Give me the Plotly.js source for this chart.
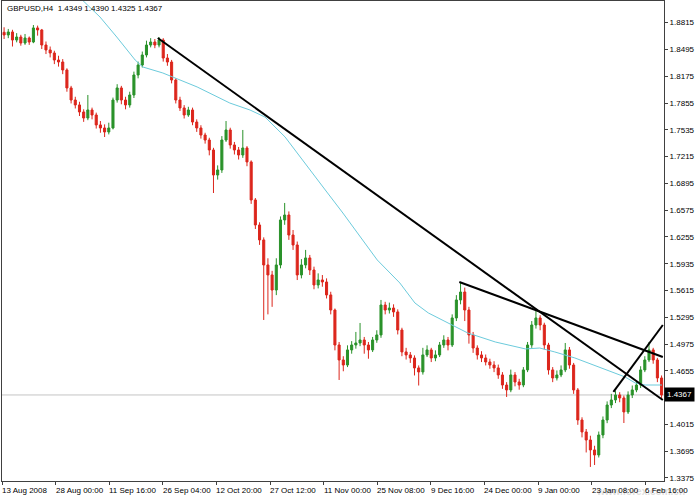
<!DOCTYPE html>
<html>
<head>
<meta charset="utf-8">
<script src="https://cdn.plot.ly/plotly-3.0.1.min.js"></script>
<style>
html,body{margin:0;padding:0;background:#fff;}
#chart{width:698px;height:498px;}
</style>
</head>
<body>
<div id="chart"></div>
<script>
// ---- Data (each candle ~ 5 H4 bars) ----
const openP = [1.8700,1.8668,1.8704,1.8608,1.8644,1.8572,1.8632,1.8584,1.8752,1.8728,
1.8548,1.8489,1.8453,1.8369,1.8345,1.8250,1.8035,1.7891,1.7832,1.7748,
1.7676,1.7772,1.7712,1.7593,1.7557,1.7509,1.7557,1.7891,1.8035,1.7891,
1.7832,1.7951,1.8190,1.8309,1.8429,1.8548,1.8584,1.8548,1.8608,1.8393,
1.8345,1.8130,1.7891,1.7796,1.7712,1.7772,1.7628,1.7557,1.7473,1.7413,
1.7294,1.6995,1.7055,1.7413,1.7533,1.7354,1.7294,1.7234,1.7318,1.7151,
1.6697,1.6398,1.6219,1.5920,1.5801,1.5621,1.5920,1.6458,1.6517,1.6278,
1.6159,1.5801,1.5920,1.6004,1.5860,1.5681,1.5741,1.5717,1.5562,1.5382,
1.4964,1.4785,1.4725,1.4905,1.4964,1.4988,1.5024,1.4964,1.4905,1.5024,
1.5084,1.5442,1.5382,1.5406,1.5359,1.5143,1.4881,1.4845,1.4809,1.4690,
1.4642,1.4845,1.4905,1.4809,1.4845,1.4964,1.5024,1.4964,1.5287,1.5502,
1.5597,1.5382,1.5084,1.4928,1.4845,1.4809,1.4761,1.4725,1.4690,1.4606,
1.4486,1.4427,1.4606,1.4522,1.4486,1.4666,1.4964,1.5203,1.5287,1.5203,
1.4964,1.4666,1.4570,1.4606,1.4666,1.4905,1.4725,1.4427,1.4068,1.3925,
1.3829,1.3710,1.3650,1.3889,1.4068,1.4247,1.4307,1.4367,1.4331,1.4164,
1.4367,1.4427,1.4486,1.4666,1.4785,1.4905,1.4785,1.4570];

const highP = [1.8760,1.8740,1.8730,1.8690,1.8670,1.8680,1.8650,1.8787,1.8780,1.8740,
1.8590,1.8530,1.8480,1.8420,1.8380,1.8270,1.8060,1.7930,1.7870,1.7780,
1.7951,1.7800,1.7740,1.7640,1.7600,1.7620,1.7920,1.8080,1.8060,1.7930,
1.7990,1.8230,1.8350,1.8470,1.8600,1.8630,1.8620,1.8644,1.8630,1.8440,
1.8370,1.8150,1.7930,1.7830,1.7810,1.7800,1.7660,1.7590,1.7500,1.7440,
1.7320,1.7110,1.7460,1.7640,1.7560,1.7390,1.7330,1.7533,1.7340,1.7170,
1.6720,1.6430,1.6250,1.6000,1.5850,1.6000,1.6500,1.6661,1.6560,1.6338,
1.6200,1.5990,1.6100,1.6040,1.5900,1.5820,1.5800,1.5760,1.5600,1.5400,
1.5000,1.4830,1.4960,1.5010,1.5120,1.5227,1.5060,1.5000,1.5060,1.5140,
1.5502,1.5480,1.5470,1.5450,1.5390,1.5170,1.4930,1.4880,1.4840,1.4720,
1.4930,1.4960,1.4930,1.4900,1.5000,1.5080,1.5060,1.5330,1.5560,1.5717,
1.5650,1.5420,1.5120,1.4960,1.4890,1.4850,1.4800,1.4770,1.4730,1.4640,
1.4520,1.4670,1.4640,1.4560,1.4700,1.5000,1.5250,1.5382,1.5320,1.5230,
1.4990,1.4700,1.4660,1.4720,1.4988,1.4940,1.4750,1.4450,1.4100,1.3960,
1.3880,1.3760,1.3930,1.4110,1.4290,1.4380,1.4420,1.4400,1.4360,1.4410,
1.4480,1.4540,1.4710,1.4830,1.5000,1.4930,1.4810,1.4600];

const lowP = [1.8620,1.8630,1.8530,1.8580,1.8540,1.8550,1.8550,1.8570,1.8660,1.8500,
1.8440,1.8400,1.8320,1.8290,1.8200,1.7990,1.7850,1.7790,1.7700,1.7630,
1.7650,1.7660,1.7550,1.7500,1.7449,1.7480,1.7540,1.7860,1.7840,1.7780,
1.7800,1.7915,1.8150,1.8280,1.8400,1.8520,1.8510,1.8520,1.8350,1.8300,
1.8090,1.7850,1.7760,1.7670,1.7690,1.7590,1.7510,1.7430,1.7370,1.7230,
1.6780,1.6940,1.7020,1.7390,1.7310,1.7240,1.7180,1.7200,1.7100,1.6650,
1.6350,1.6160,1.5263,1.5330,1.5420,1.5560,1.5880,1.6400,1.6220,1.6100,
1.5740,1.5760,1.5880,1.5800,1.5630,1.5640,1.5660,1.5520,1.5330,1.4900,
1.4546,1.4650,1.4700,1.4860,1.4920,1.4950,1.4860,1.4800,1.4880,1.4990,
1.5050,1.5330,1.5340,1.5300,1.5090,1.4830,1.4790,1.4750,1.4600,1.4480,
1.4610,1.4820,1.4760,1.4770,1.4820,1.4930,1.4900,1.4940,1.5250,1.5450,
1.5250,1.4980,1.4870,1.4790,1.4760,1.4720,1.4680,1.4640,1.4560,1.4440,
1.4343,1.4400,1.4470,1.4430,1.4460,1.4640,1.4930,1.5160,1.5140,1.4910,
1.4610,1.4520,1.4540,1.4580,1.4640,1.4680,1.4380,1.4010,1.3860,1.3680,
1.3507,1.3530,1.3620,1.3850,1.4030,1.4210,1.4270,1.4280,1.4032,1.4140,
1.4330,1.4400,1.4450,1.4640,1.4760,1.4740,1.4520,1.4325];

const closeP = [1.8668,1.8704,1.8608,1.8644,1.8572,1.8632,1.8584,1.8752,1.8728,1.8548,
1.8489,1.8453,1.8369,1.8345,1.8250,1.8035,1.7891,1.7832,1.7748,1.7676,
1.7772,1.7712,1.7593,1.7557,1.7509,1.7557,1.7891,1.8035,1.7891,1.7832,
1.7951,1.8190,1.8309,1.8429,1.8548,1.8584,1.8548,1.8608,1.8393,1.8345,
1.8130,1.7891,1.7796,1.7712,1.7772,1.7628,1.7557,1.7473,1.7413,1.7294,
1.6995,1.7055,1.7413,1.7533,1.7354,1.7294,1.7234,1.7318,1.7151,1.6697,
1.6398,1.6219,1.5920,1.5801,1.5621,1.5920,1.6458,1.6517,1.6278,1.6159,
1.5801,1.5920,1.6004,1.5860,1.5681,1.5741,1.5717,1.5562,1.5382,1.4964,
1.4785,1.4725,1.4905,1.4964,1.4988,1.5024,1.4964,1.4905,1.5024,1.5084,
1.5442,1.5382,1.5406,1.5359,1.5143,1.4881,1.4845,1.4809,1.4690,1.4642,
1.4845,1.4905,1.4809,1.4845,1.4964,1.5024,1.4964,1.5287,1.5502,1.5597,
1.5382,1.5084,1.4928,1.4845,1.4809,1.4761,1.4725,1.4690,1.4606,1.4486,
1.4427,1.4606,1.4522,1.4486,1.4666,1.4964,1.5203,1.5287,1.5203,1.4964,
1.4666,1.4570,1.4606,1.4666,1.4905,1.4725,1.4427,1.4068,1.3925,1.3829,
1.3710,1.3650,1.3889,1.4068,1.4247,1.4307,1.4367,1.4331,1.4164,1.4367,
1.4427,1.4486,1.4666,1.4785,1.4905,1.4785,1.4570,1.4367];

// moving average (cyan): H4 bar index / price
const maBar   = [81,99,117,137,159,168,192,233,272,296,314,338,362,386,407,436,448,475,493,509,533,556,589,625,642,660,684,716,744,756,768,788];
const maPrice = [1.9229,1.9050,1.8883,1.8644,1.8369,1.8286,1.8214,1.8047,1.7855,1.7772,1.7688,1.7449,1.7139,1.6816,1.6541,1.6135,1.5980,1.5705,1.5466,1.5347,1.5227,1.5108,1.5000,1.4917,1.4928,1.4881,1.4809,1.4690,1.4582,1.4510,1.4486,1.4486];

// trend lines: [bar0, price0, bar1, price1]
const trendLines = [
  [186, 1.8632, 789, 1.4307],
  [546, 1.5717, 789, 1.4821],
  [730, 1.4403, 789, 1.5203]
];

const xTickBars  = [0,64,128,192,256,320,384,448,512,576,640,704,768];
const xTickText  = ["13 Aug 2008","28 Aug 00:00","11 Sep 16:00","26 Sep 04:00","12 Oct 20:00","27 Oct 12:00","11 Nov 00:00","25 Nov 08:00","9 Dec 16:00","24 Dec 00:00","9 Jan 00:00","23 Jan 08:00","6 Feb 16:00"];
const yTickVals  = [1.3375,1.3695,1.4015,1.4655,1.4975,1.5295,1.5615,1.5935,1.6255,1.6575,1.6895,1.7215,1.7535,1.7855,1.8175,1.8495,1.8815];
const lastPrice  = 1.4367;
const titleText  = "GBPUSD,H4&nbsp;&nbsp;1.4349 1.4390 1.4325 1.4367";

const barsPerCandle = 5;
const xs = closeP.map((_, i) => i * barsPerCandle + barsPerCandle / 2);

const FONT = "Liberation Sans, Arial, sans-serif";

const traces = [
  {
    type: 'candlestick',
    x: xs, open: openP, high: highP, low: lowP, close: closeP,
    increasing: {line: {color: '#2a922a', width: 1}, fillcolor: '#2a922a'},
    decreasing: {line: {color: '#dc261c', width: 1}, fillcolor: '#dc261c'},
    whiskerwidth: 0,
    hoverinfo: 'skip',
    showlegend: false
  },
  {
    type: 'scatter', mode: 'lines',
    x: maBar, y: maPrice,
    line: {color: '#6ccbdc', width: 1},
    hoverinfo: 'skip', showlegend: false
  }
];

const shapes = [
  {type: 'line', xref: 'paper', x0: 0, x1: 1, yref: 'y', y0: lastPrice, y1: lastPrice,
   line: {color: '#c4c4c4', width: 1}, layer: 'below'}
];
trendLines.forEach(t => shapes.push({
  type: 'line', xref: 'x', yref: 'y', x0: t[0], y0: t[1], x1: t[2], y1: t[3],
  line: {color: '#000000', width: 2}
}));

const annotations = [
  {xref: 'paper', yref: 'paper', x: 0.004, y: 0.997, xanchor: 'left', yanchor: 'top',
   text: titleText, showarrow: false, font: {family: FONT, size: 8, color: '#000'}},
  {xref: 'paper', yref: 'y', x: 1.0, y: lastPrice, xanchor: 'left', yanchor: 'middle',
   text: lastPrice.toFixed(4), showarrow: false, bgcolor: '#000000', borderpad: 2,
   font: {family: FONT, size: 8, color: '#ffffff'}},
  {xref: 'paper', yref: 'paper', x: 1.035, y: -0.022, xanchor: 'right', yanchor: 'middle',
   text: '<b>www.forex.com.cn</b>', showarrow: false,
   font: {family: FONT, size: 10, color: 'rgba(190,190,190,0.5)'}}
];
xTickBars.forEach((b, k) => annotations.push({
  xref: 'x', yref: 'paper', x: b, y: 0, xanchor: 'left', yanchor: 'top',
  xshift: -2, yshift: -3, text: xTickText[k], showarrow: false,
  font: {family: FONT, size: 8, color: '#000'}
}));

const layout = {
  width: 698, height: 498,
  margin: {l: 2, r: 34, t: 1, b: 17, pad: 0},
  paper_bgcolor: '#ffffff', plot_bgcolor: '#ffffff',
  showlegend: false,
  font: {family: FONT, size: 8, color: '#000'},
  xaxis: {
    range: [0, 790.4], fixedrange: true,
    rangeslider: {visible: false},
    tickmode: 'array', tickvals: xTickBars, showticklabels: false,
    ticks: 'outside', ticklen: 3, tickcolor: '#404040',
    showgrid: false, zeroline: false,
    showline: true, linecolor: '#404040', linewidth: 1, mirror: true
  },
  yaxis: {
    range: [1.3339, 1.9074], fixedrange: true,
    side: 'right',
    tickmode: 'array', tickvals: yTickVals, ticktext: yTickVals.map(v => v.toFixed(4)),
    ticks: 'outside', ticklen: 3, tickcolor: '#404040',
    showgrid: false, zeroline: false,
    showline: true, linecolor: '#404040', linewidth: 1, mirror: true,
    tickfont: {family: FONT, size: 8, color: '#000'}
  },
  shapes: shapes,
  annotations: annotations
};

Plotly.newPlot('chart', traces, layout, {displayModeBar: false, staticPlot: true});
</script>
</body>
</html>
